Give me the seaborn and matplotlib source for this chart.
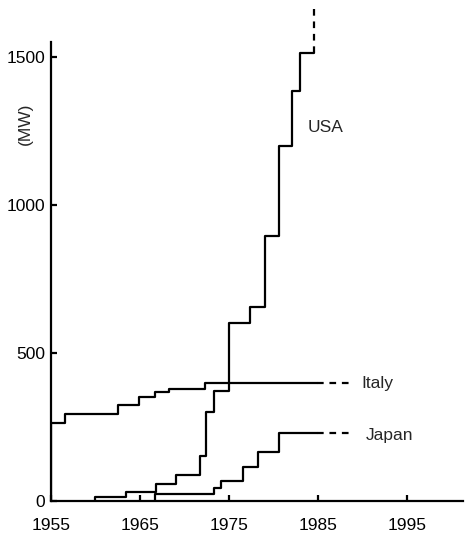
import matplotlib
matplotlib.use("Agg")
import matplotlib.pyplot as plt
import seaborn as sns

# ---- data ----
usa_years = [1960.0, 1963.4, 1966.8, 1969.1, 1971.7, 1972.4, 1973.3, 1975.0,
             1977.4, 1979.0, 1980.6, 1982.1, 1983.0, 1984.5]
usa_mw = [15, 31, 56, 88, 153, 302, 373, 602, 656, 896, 1199, 1383, 1512, 1512]

italy_years = [1955.0, 1956.6, 1962.5, 1964.9, 1966.7, 1968.3, 1972.3, 1984.9]
italy_mw = [262, 294, 323, 351, 368, 377, 400, 400]

japan_years = [1966.7, 1973.3, 1974.1, 1976.6, 1978.3, 1980.6, 1984.9]
japan_mw = [24, 43, 68, 115, 167, 229, 229]

# projected (dashed) continuations
usa_proj_years = [1984.5, 1984.5]
usa_proj_mw = [1512, 1660]
italy_proj_years = [1984.9, 1988.8]
italy_proj_mw = [400, 400]
japan_proj_years = [1984.9, 1988.7]
japan_proj_mw = [229, 229]

x_ticks = [1955, 1965, 1975, 1985, 1995]
y_ticks = [0, 500, 1000, 1500]

# ---- style ----
sns.set_style("ticks")
plt.rcParams["font.family"] = ["Liberation Sans", "DejaVu Sans"]

fig = plt.figure(figsize=(4.65, 5.39), dpi=100)
ax = fig.add_axes([51 / 465, 38 / 539, 412 / 465, 459 / 539])

lw = 1.6
common = dict(estimator=None, sort=False, color="black", linewidth=lw, ax=ax)

# solid step lines, each beginning at the axis (0 MW)
for yrs, vals in [(usa_years, usa_mw), (italy_years, italy_mw), (japan_years, japan_mw)]:
    xs = [yrs[0]] + list(yrs)
    ys = [0] + list(vals)
    sns.lineplot(x=xs, y=ys, drawstyle="steps-post", **common)

# dashed projections
dash = (0, (3, 2.6))
for yrs, vals in [(usa_proj_years, usa_proj_mw), (italy_proj_years, italy_proj_mw),
                  (japan_proj_years, japan_proj_mw)]:
    sns.lineplot(x=yrs, y=vals, linestyle=dash, clip_on=False, **common)

ax.set_xlim(1955, 2001.3)
ax.set_ylim(0, 1550)
ax.set_xticks(x_ticks)
ax.set_xticklabels([str(t) for t in x_ticks])
ax.set_yticks(y_ticks)
ax.set_yticklabels([str(t) for t in y_ticks])
ax.tick_params(axis="both", direction="in", length=4, width=lw, labelsize=12.5, colors="black")
ax.tick_params(axis="x", pad=12)
ax.tick_params(axis="y", pad=4)
for s in ["top", "right"]:
    ax.spines[s].set_visible(False)
for s in ["left", "bottom"]:
    ax.spines[s].set_linewidth(lw)
    ax.spines[s].set_color("black")
ax.set_xlabel("")
ax.set_ylabel("")

# labels
ax.text(1985.8, 1260, "USA", ha="center", va="center", fontsize=12.5)
ax.text(1989.9, 398, "Italy", ha="left", va="center", fontsize=12.5)
ax.text(1990.4, 222, "Japan", ha="left", va="center", fontsize=12.5)
fig.text(25 / 465, 1 - 124 / 539, "(MW)", rotation=90, ha="center", va="center", fontsize=12.5)

fig.savefig("out.png", dpi=100)
